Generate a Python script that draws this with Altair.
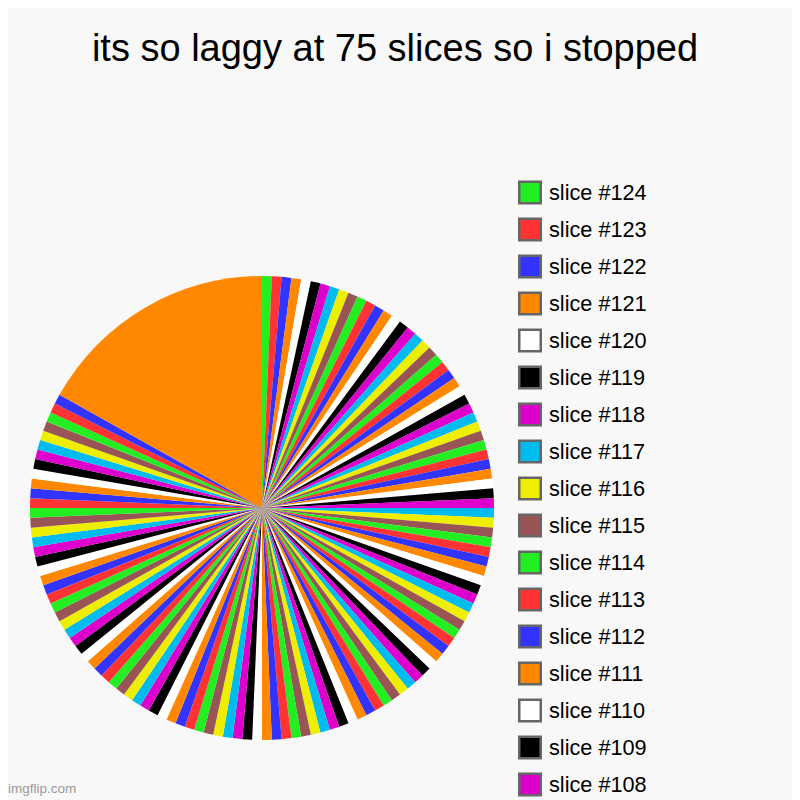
import altair as alt
import pandas as pd

# ---- data ----
title_text = "its so laggy at 75 slices so i stopped"
slice_numbers = list(range(124, 0, -1))          # drawn clockwise from 12 o'clock
slice_values = [
    1, 1, 1, 1, 1, 1, 1, 1, 1, 1, 1, 1, 1, 1, 1, 1, 1, 1, 1, 1,
    1, 1, 1, 1, 1, 1, 1, 1, 1, 1, 1, 1, 1, 1, 1, 1, 1, 1, 1, 1,
    1, 1, 1, 1, 1, 1, 1, 1, 1, 1, 1, 1, 1, 1, 1, 1, 1, 1, 1, 1,
    1, 1, 1, 1, 1, 1, 1, 1, 1, 1, 1, 1, 1, 1, 1, 1, 1, 1, 1, 1,
    1, 1, 1, 1, 1, 1, 1, 1, 1, 1, 1, 1, 1, 1, 1, 1, 1, 1, 1, 1,
    1, 1, 1, 1, 1, 1, 1, 1, 1, 1, 1, 1, 1, 1, 1, 1, 1, 1, 1, 1,
    1, 1, 1,
    25,
]
palette = ["#22ee22", "#ff3333", "#3333ff", "#ff8800", "#ffffff",
           "#000000", "#dd00cc", "#00bbee", "#eeee00", "#995555"]
legend_count = 17          # entries that fit in the picture
watermark = "imgflip.com"

labels = [f"slice #{n}" for n in slice_numbers]
pie_df = pd.DataFrame({"label": labels, "value": slice_values,
                       "idx": list(range(len(labels)))})
legend_df = pd.DataFrame({"label": labels[:legend_count]})

color_scale = alt.Scale(domain=labels, range=palette)
FONT = "Liberation Sans"

pie = alt.Chart(pie_df).mark_arc(outerRadius=232).encode(
    theta=alt.Theta("value:Q", stack=True),
    color=alt.Color("label:N", scale=color_scale, legend=None),
    order=alt.Order("idx:Q", sort="ascending"),
    x=alt.value(254),
    y=alt.value(500),
)

ly = alt.Y("label:N", axis=None,
           scale=alt.Scale(type="point", domain=labels[:legend_count],
                           range=[184.5, 776.5], padding=0))

squares = alt.Chart(legend_df).mark_square(
    size=462, opacity=1, filled=True, stroke="#666666", strokeWidth=2.5
).encode(
    x=alt.value(522),
    y=ly,
    color=alt.Color("label:N", scale=color_scale, legend=None),
)

texts = alt.Chart(legend_df).mark_text(
    align="left", baseline="middle", fontSize=21.7, font=FONT, color="#000000"
).encode(
    x=alt.value(541),
    y=ly,
    text="label:N",
)

title = alt.Chart(pd.DataFrame({"t": [title_text]})).mark_text(
    align="center", baseline="alphabetic", fontSize=38, font=FONT, color="#000000"
).encode(x=alt.value(387), y=alt.value(53), text="t:N")

wm = alt.Chart(pd.DataFrame({"t": [watermark]})).mark_text(
    align="left", baseline="alphabetic", fontSize=13.5, font=FONT, color="#999999"
).encode(x=alt.value(0), y=alt.value(785), text="t:N")

chart = alt.layer(pie, squares, texts, title, wm).properties(
    width=784, height=792,
    padding=0,
    autosize=alt.AutoSizeParams(type="none"),
    background="#f8f8f8",
).configure_view(stroke=None)

chart.save("out.html", embed_options={"renderer": "svg", "actions": False})
